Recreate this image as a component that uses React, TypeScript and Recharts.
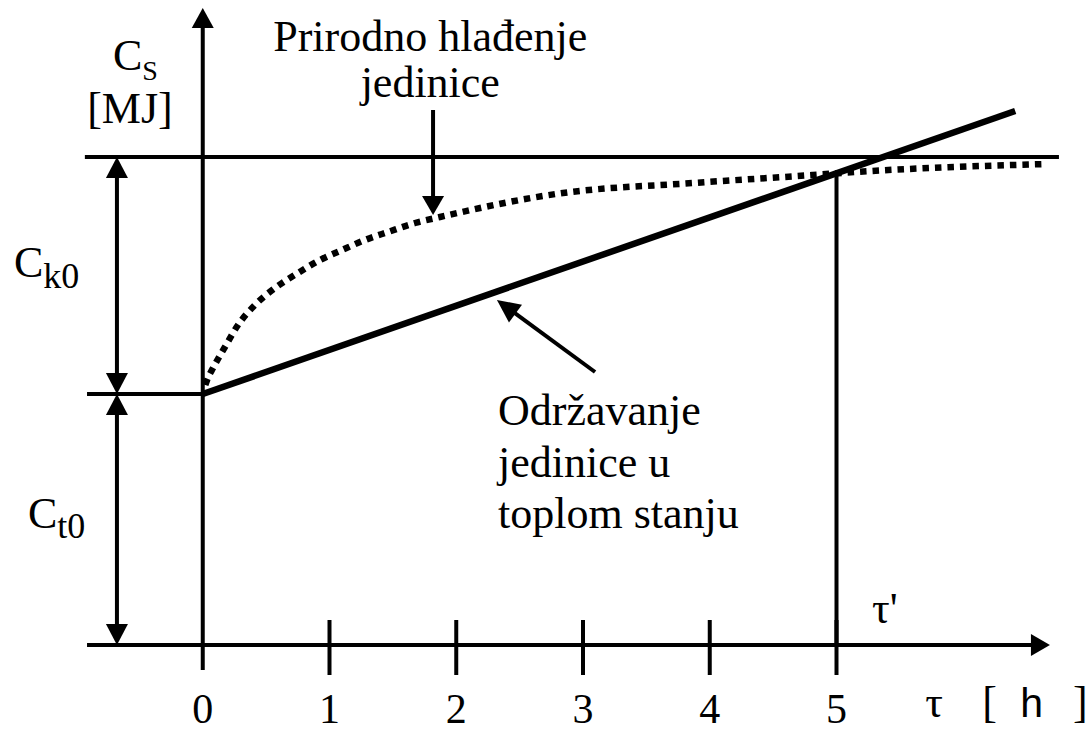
import React from 'react';
import { LineChart, Line, XAxis, YAxis, ReferenceLine, ReferenceDot } from 'recharts';

// x axis (tau, hours)
const xTicks = [0, 1, 2, 3, 4, 5];
const xTickLabels = ['0', '1', '2', '3', '4', '5'];

// levels (MJ, schematic units)
const levelCt0 = 5.02;
const levelTop = 9.76;
const tauPrime = 5;
const tauPrimeLevel = 9.46;

// natural cooling curve (dotted)
const coolingT = [0.02, 0.034, 0.081, 0.175, 0.278, 0.412, 0.57, 0.751, 0.925, 1.099, 1.28, 1.461, 1.675, 1.872, 2.842, 3.868, 4.815, 5.146, 6.661];
const coolingV = [5.2, 5.3, 5.54, 5.96, 6.4, 6.8, 7.14, 7.44, 7.7, 7.9, 8.1, 8.26, 8.44, 8.56, 9.04, 9.24, 9.4, 9.46, 9.62];

// keeping the unit hot (solid line)
const hotT = [0, 6.41];
const hotV = [5.02, 10.68];

const coolingData = coolingT.map((t, i) => ({ t, v: coolingV[i] }));
const hotData = hotT.map((t, i) => ({ t, v: hotV[i] }));

const serifStyle: React.CSSProperties = { fontFamily: "'Liberation Serif', serif" };
const sansStyle: React.CSSProperties = { fontFamily: "'Liberation Sans', sans-serif" };
const FS = 44;

type ArrowOpts = { start?: boolean; end?: boolean; hl?: number; hw?: number; sw?: number };
const arrowShape = (o: ArrowOpts) => (p: any) => {
  const { x1, y1, x2, y2 } = p;
  const hl = o.hl ?? 20;
  const hw = o.hw ?? 11;
  const sw = o.sw ?? 4;
  const dx = x2 - x1;
  const dy = y2 - y1;
  const len = Math.hypot(dx, dy) || 1;
  const ux = dx / len;
  const uy = dy / len;
  const nx = -uy;
  const ny = ux;
  let sx1 = x1, sy1 = y1, sx2 = x2, sy2 = y2;
  const heads: React.ReactNode[] = [];
  if (o.end) {
    sx2 = x2 - ux * (hl - 2);
    sy2 = y2 - uy * (hl - 2);
    const bx = x2 - ux * hl;
    const by = y2 - uy * hl;
    heads.push(<polygon key="e" points={`${x2},${y2} ${bx + nx * hw},${by + ny * hw} ${bx - nx * hw},${by - ny * hw}`} fill="#000" />);
  }
  if (o.start) {
    sx1 = x1 + ux * (hl - 2);
    sy1 = y1 + uy * (hl - 2);
    const bx = x1 + ux * hl;
    const by = y1 + uy * hl;
    heads.push(<polygon key="s" points={`${x1},${y1} ${bx + nx * hw},${by + ny * hw} ${bx - nx * hw},${by - ny * hw}`} fill="#000" />);
  }
  return (
    <g>
      <line x1={sx1} y1={sy1} x2={sx2} y2={sy2} stroke="#000" strokeWidth={sw} />
      {heads}
    </g>
  );
};

const plainLine = (sw: number) => (p: any) => (
  <line x1={p.x1} y1={p.y1} x2={p.x2} y2={p.y2} stroke="#000" strokeWidth={sw} />
);

const textShape = (render: (cx: number, cy: number) => React.ReactNode) => (p: any) => (
  <g>{render(p.cx, p.cy)}</g>
);

const Tick = (props: any) => {
  const { x, y, payload, index } = props;
  return (
    <text x={x} y={y + 3} textAnchor="middle" style={serifStyle} fontSize={42} fill="#000">
      {xTickLabels[index] ?? String(payload.value)}
    </text>
  );
};

export default function App() {
  return (
    <div style={{ position: 'absolute', left: 0, top: 0, width: 1092, height: 731, background: '#fff' }}>
      <LineChart width={1092} height={731} margin={{ top: 5, right: 2, left: 12.625, bottom: 0 }}>
        <XAxis
          dataKey="t"
          type="number"
          domain={[-1.5, 7]}
          ticks={xTicks}
          interval={0}
          axisLine={false}
          tickLine={false}
          tickSize={0}
          tickMargin={0}
          height={11}
          tick={<Tick />}
          allowDataOverflow
        />
        <YAxis type="number" domain={[-1.5, 12.8]} hide allowDataOverflow />

        {/* axes */}
        <ReferenceLine segment={[{ x: 0, y: -0.5 }, { x: 0, y: 12.74 }]} shape={arrowShape({ end: true, hl: 20, hw: 11 })} />
        <ReferenceLine segment={[{ x: -0.913, y: 0 }, { x: 6.684, y: 0 }]} shape={arrowShape({ end: true, hl: 19, hw: 11 })} />
        {xTicks.filter((t) => t > 0).map((t) => (
          <ReferenceLine key={t} segment={[{ x: t, y: 0.5 }, { x: t, y: -0.6 }]} shape={plainLine(4)} />
        ))}

        {/* level lines */}
        <ReferenceLine segment={[{ x: -0.93, y: levelTop }, { x: 6.755, y: levelTop }]} shape={plainLine(4)} />
        <ReferenceLine segment={[{ x: -0.913, y: levelCt0 }, { x: 0, y: levelCt0 }]} shape={plainLine(4)} />

        {/* dimension arrows */}
        <ReferenceLine segment={[{ x: -0.677, y: levelTop }, { x: -0.677, y: levelCt0 }]} shape={arrowShape({ start: true, end: true, hl: 21, hw: 11 })} />
        <ReferenceLine segment={[{ x: -0.677, y: levelCt0 }, { x: -0.677, y: 0 }]} shape={arrowShape({ start: true, end: true, hl: 21, hw: 11 })} />

        {/* tau' vertical */}
        <ReferenceLine segment={[{ x: tauPrime, y: 0 }, { x: tauPrime, y: tauPrimeLevel }]} shape={plainLine(4)} />

        {/* pointer arrows */}
        <ReferenceLine segment={[{ x: 1.817, y: 10.7 }, { x: 1.817, y: 8.6 }]} shape={arrowShape({ end: true, hl: 19, hw: 11, sw: 4 })} />
        <ReferenceLine segment={[{ x: 3.095, y: 5.46 }, { x: 2.321, y: 6.9 }]} shape={arrowShape({ end: true, hl: 23, hw: 11, sw: 4 })} />

        <Line
          data={coolingData}
          dataKey="v"
          type="monotone"
          stroke="#000"
          strokeWidth={6.5}
          strokeDasharray="6.5 6"
          dot={false}
          activeDot={false}
          isAnimationActive={false}
        />
        <Line
          data={hotData}
          dataKey="v"
          type="linear"
          stroke="#000"
          strokeWidth={6.5}
          dot={false}
          activeDot={false}
          isAnimationActive={false}
        />

        {/* texts */}
        <ReferenceDot x={1.795} y={11.88} r={0} shape={textShape((cx, cy) => (
          <text x={cx} y={cy} textAnchor="middle" style={serifStyle} fontSize={FS} fill="#000">Prirodno hlađenje</text>
        ))} />
        <ReferenceDot x={1.795} y={10.96} r={0} shape={textShape((cx, cy) => (
          <text x={cx} y={cy} textAnchor="middle" style={serifStyle} fontSize={FS} fill="#000">jedinice</text>
        ))} />
        <ReferenceDot x={-0.708} y={11.5} r={0} shape={textShape((cx, cy) => (
          <text x={cx} y={cy} style={serifStyle} fontSize={FS} fill="#000">
            C<tspan fontSize={28} dy={10}>S</tspan>
          </text>
        ))} />
        <ReferenceDot x={-0.574} y={10.44} r={0} shape={textShape((cx, cy) => (
          <text x={cx} y={cy} textAnchor="middle" style={serifStyle} fontSize={FS} fill="#000">[MJ]</text>
        ))} />
        <ReferenceDot x={-1.49} y={7.36} r={0} shape={textShape((cx, cy) => (
          <text x={cx} y={cy} style={serifStyle} fontSize={FS} fill="#000">
            C<tspan fontSize={36} dy={11}>k0</tspan>
          </text>
        ))} />
        <ReferenceDot x={-1.379} y={2.34} r={0} shape={textShape((cx, cy) => (
          <text x={cx} y={cy} style={serifStyle} fontSize={FS} fill="#000">
            C<tspan fontSize={36} dy={10}>t0</tspan>
          </text>
        ))} />
        <ReferenceDot x={2.33} y={4.4} r={0} shape={textShape((cx, cy) => (
          <text x={cx} y={cy} style={serifStyle} fontSize={FS} fill="#000">Održavanje</text>
        ))} />
        <ReferenceDot x={2.33} y={3.36} r={0} shape={textShape((cx, cy) => (
          <text x={cx} y={cy} style={serifStyle} fontSize={FS} fill="#000">jedinice u</text>
        ))} />
        <ReferenceDot x={2.33} y={2.34} r={0} shape={textShape((cx, cy) => (
          <text x={cx} y={cy} style={serifStyle} fontSize={FS} fill="#000">toplom stanju</text>
        ))} />
        <ReferenceDot x={5.28} y={0.44} r={0} shape={textShape((cx, cy) => (
          <text x={cx} y={cy} style={serifStyle} fontSize={FS} fill="#000">τ'</text>
        ))} />
        <ReferenceDot x={5.7} y={-1.44} r={0} shape={textShape((cx, cy) => (
          <text x={cx} y={cy} style={serifStyle} fontSize={FS} fill="#000">τ</text>
        ))} />
        <ReferenceDot x={6.15} y={-1.44} r={0} shape={textShape((cx, cy) => (
          <text x={cx} y={cy} style={serifStyle} fontSize={FS} fill="#000">[</text>
        ))} />
        <ReferenceDot x={6.45} y={-1.44} r={0} shape={textShape((cx, cy) => (
          <text x={cx} y={cy} style={sansStyle} fontSize={41} fill="#000">h</text>
        ))} />
        <ReferenceDot x={6.866} y={-1.44} r={0} shape={textShape((cx, cy) => (
          <text x={cx} y={cy} style={serifStyle} fontSize={FS} fill="#000">]</text>
        ))} />
      </LineChart>
    </div>
  );
}
